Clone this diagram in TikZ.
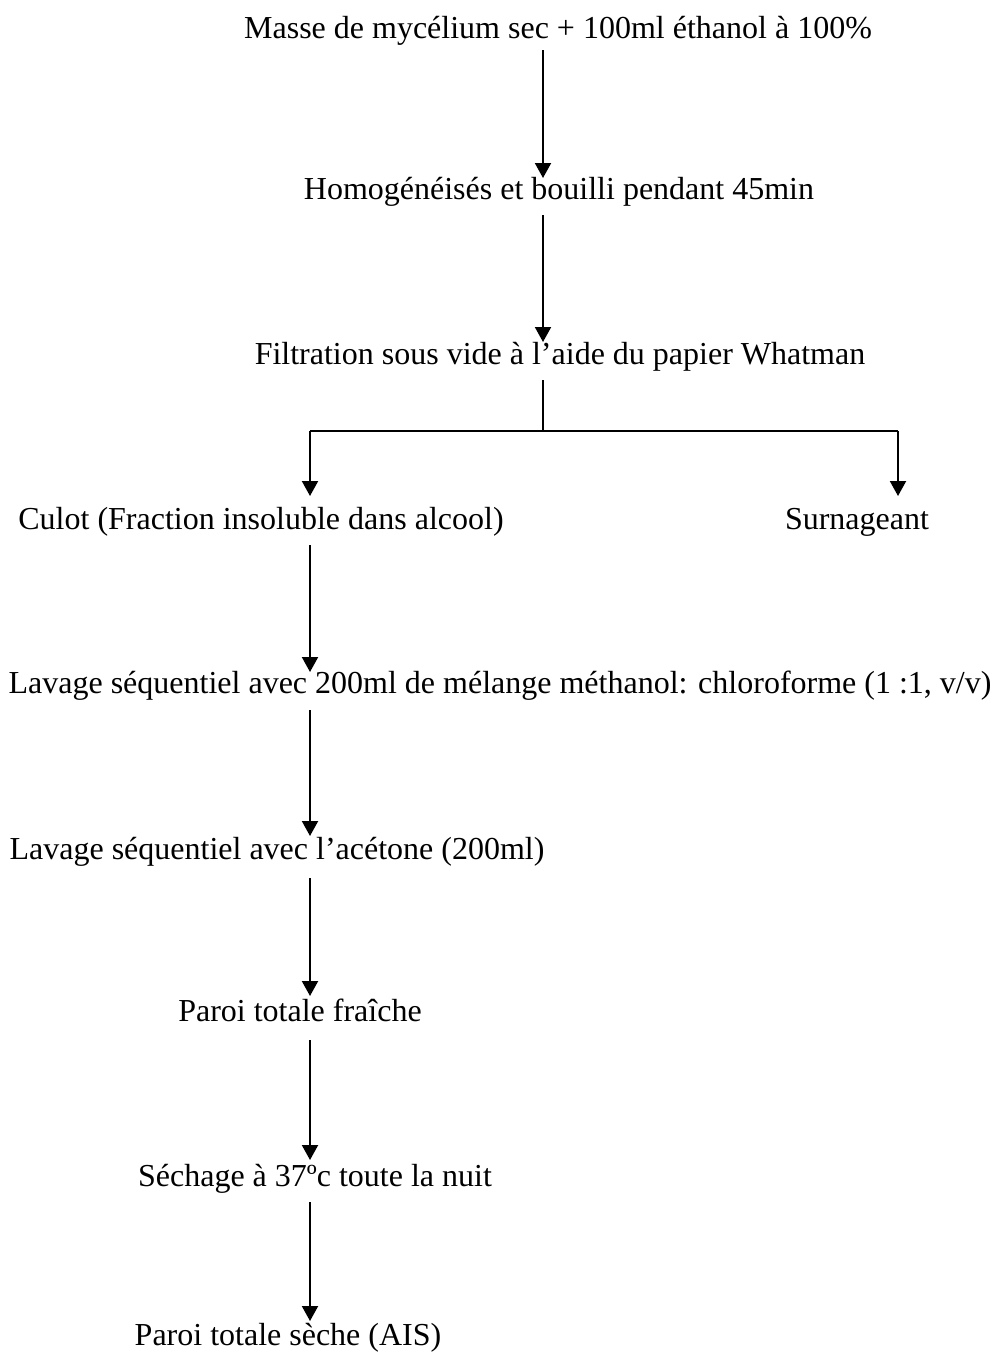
\documentclass[tikz,border=0pt]{standalone}
\usepackage{fontspec}
\setmainfont{Liberation Serif}
\usetikzlibrary{arrows.meta,calc}
\newcommand\labfont{\fontsize{32}{36}\selectfont}
\begin{document}
\begin{tikzpicture}[x=1pt,y=-1pt,
  lab/.style={inner sep=0pt, anchor=base, font=\labfont},
  arr/.style={line width=2pt, -{Triangle[length=15pt,width=16pt]}},
  thin/.style={line width=1.3pt}]
\useasboundingbox (0,0) rectangle (993,1353);
\fill[white] (0,0) rectangle (993,1353);
\coordinate (cA) at (543,0);
\coordinate (cB) at (310,0);
\coordinate (cC) at (898,0);
\node[lab] (t1) at (558,38) {Masse de mycélium sec + 100ml éthanol à 100\%};
\node[lab] (t2) at (559,199) {Homogénéisés et bouilli pendant 45min};
\node[lab] (t3) at (560,364) {Filtration sous vide à l’aide du papier Whatman};
\node[lab] (t4) at (261,529) {Culot (Fraction insoluble dans alcool)};
\node[lab] (t4b) at (857,529) {Surnageant};
\node[lab] (t5) at (500,693) {Lavage séquentiel avec 200ml de mélange méthanol: chloroforme (1 :1, v/v)};
\node[lab] (t6) at (277,859) {Lavage séquentiel avec l’acétone (200ml)};
\node[lab] (t7) at (300,1021) {Paroi totale fraîche};
\node[lab] (t8) at (315,1186) {Séchage à 37ºc toute la nuit};
\node[lab] (t9) at (288,1345) {Paroi totale sèche (AIS)};
\coordinate (j) at (543,431);
\coordinate (jl) at (310,431);
\coordinate (jr) at (898,431);
\draw[arr] ($(t1.base -| cA)+(0,12)$) -- ($(t2.base -| cA)+(0,-21)$);
\draw[arr] ($(t2.base -| cA)+(0,16)$) -- ($(t3.base -| cA)+(0,-22)$);
\draw[thin] ($(t3.base -| cA)+(0,16)$) -- (j);
\draw[thin] (jl) -- (jr);
\draw[arr] (jl) -- ($(t4.base -| cB)+(0,-33)$);
\draw[arr] (jr) -- ($(t4b.base -| cC)+(0,-33)$);
\draw[arr] ($(t4.base -| cB)+(0,16)$) -- ($(t5.base -| cB)+(0,-21)$);
\draw[arr] ($(t5.base -| cB)+(0,17)$) -- ($(t6.base -| cB)+(0,-23)$);
\draw[arr] ($(t6.base -| cB)+(0,19)$) -- ($(t7.base -| cB)+(0,-25)$);
\draw[arr] ($(t7.base -| cB)+(0,19)$) -- ($(t8.base -| cB)+(0,-26)$);
\draw[arr] ($(t8.base -| cB)+(0,16)$) -- ($(t9.base -| cB)+(0,-24)$);
\end{tikzpicture}
\end{document}
